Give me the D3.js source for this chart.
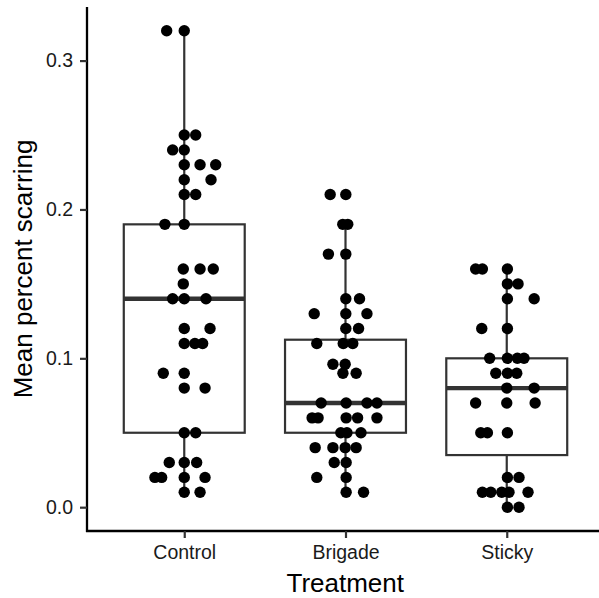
<!DOCTYPE html>
<html>
<head>
<meta charset="utf-8">
<script src="https://cdn.jsdelivr.net/npm/d3@7"></script>
<style>
  html, body { margin: 0; padding: 0; background: #fff; }
  svg { display: block; }
</style>
</head>
<body>
<svg id="chart" width="599" height="598"></svg>
<script>
// ---------- data ----------
const categories = ["Control", "Brigade", "Sticky"];

const controlValues = [0.32,0.32, 0.25,0.25, 0.24,0.24, 0.23,0.23,0.23, 0.22,0.22, 0.21,0.21, 0.19,0.19,
  0.16,0.16,0.16, 0.15, 0.14,0.14,0.14, 0.12,0.12, 0.11,0.11,0.11, 0.09,0.09, 0.08,0.08, 0.05,0.05,
  0.03,0.03,0.03, 0.02,0.02,0.02,0.02, 0.01,0.01];
const controlJitter = [-0.109,0, 0,0.071, -0.072,0, 0,0.098,0.195, 0,0.166, 0,0.071, -0.12,0,
  -0.006,0.098,0.18, -0.006, -0.072,0,0.135, 0,0.16, 0,0.066,0.114, -0.13,0, 0,0.129, 0,0.071,
  -0.093,0,0.077, -0.182,-0.14,0,0.129, 0,0.098];

const brigadeValues = [0.21,0.21, 0.19,0.19, 0.17,0.17, 0.14,0.14, 0.13,0.13,0.13, 0.12,0.12,
  0.11,0.11,0.11, 0.096,0.096, 0.09,0.09, 0.07,0.07,0.07,0.07, 0.06,0.06,0.06,0.06,0.06,
  0.05,0.05,0.05, 0.04,0.04,0.04,0.04, 0.03,0.03, 0.02,0.02, 0.01,0.01];
const brigadeJitter = [-0.095,0.002, -0.017,0.014, -0.106,0.002, 0.002,0.087, -0.194,0.002,0.133, 0.002,0.081,
  -0.178,-0.014,0.045, -0.078,-0.002, -0.016,0.066, -0.151,0.004,0.133,0.195, -0.207,-0.17,0.004,0.075,0.195,
  -0.029,0.009,0.096, -0.188,-0.078,-0.002,0.066, -0.07,0.004, -0.178,0.004, 0.004,0.112];

const stickyValues = [0.16,0.16,0.16, 0.15,0.15, 0.14,0.14, 0.12,0.12, 0.10,0.10,0.10,0.10,
  0.09,0.09,0.09, 0.08,0.08, 0.07,0.07,0.07, 0.05,0.05,0.05, 0.02,0.02,
  0.01,0.01,0.01,0.01,0.01, 0.00,0.00];
const stickyJitter = [-0.193,-0.151,0.004, 0.004,0.07, 0.004,0.17, -0.155,0.004, -0.106,0.004,0.066,0.107,
  -0.068,0.004,0.062, 0,0.17, -0.193,0,0.176, -0.161,-0.12,0.004, 0.004,0.076,
  -0.151,-0.099,-0.031,0.014,0.132, 0.004,0.076];

// box statistics
const whiskerLow  = [0.01, 0.01, 0.00];
const boxLower    = [0.05, 0.05, 0.035];
const boxMedian   = [0.14, 0.07, 0.08];
const boxUpper    = [0.19, 0.1125, 0.10];
const whiskerHigh = [0.32, 0.19, 0.16];

const yTicks = [0.0, 0.1, 0.2, 0.3];
const xTitle = "Treatment";
const yTitle = "Mean percent scarring";

// ---------- layout ----------
const svg = d3.select("#chart");
const mLeft = 87, mRight = 603.5, mTop = 7, mBottom = 531;

const x = d3.scalePoint().domain(categories).range([mLeft + 0.5, mRight]).padding(0.6);
const step = x.step();
const y = d3.scaleLinear().domain([-0.016, 0.336]).range([mBottom, mTop]);

const seriesValues = [controlValues, brigadeValues, stickyValues];
const seriesJitter = [controlJitter, brigadeJitter, stickyJitter];

// ---------- boxes ----------
const boxW = 0.75 * step;
const boxColor = "#333333";
const g = svg.append("g");
categories.forEach((c, i) => {
  const cx = x(c);
  g.append("line").attr("x1", cx).attr("x2", cx)
    .attr("y1", y(boxUpper[i])).attr("y2", y(whiskerHigh[i]))
    .attr("stroke", boxColor).attr("stroke-width", 2.2);
  g.append("line").attr("x1", cx).attr("x2", cx)
    .attr("y1", y(boxLower[i])).attr("y2", y(whiskerLow[i]))
    .attr("stroke", boxColor).attr("stroke-width", 2.2);
  g.append("rect").attr("x", cx - boxW / 2).attr("width", boxW)
    .attr("y", y(boxUpper[i])).attr("height", y(boxLower[i]) - y(boxUpper[i]))
    .attr("fill", "#fff").attr("stroke", boxColor).attr("stroke-width", 2.2);
  g.append("line").attr("x1", cx - boxW / 2).attr("x2", cx + boxW / 2)
    .attr("y1", y(boxMedian[i])).attr("y2", y(boxMedian[i]))
    .attr("stroke", boxColor).attr("stroke-width", 4.4);
});

// ---------- points ----------
categories.forEach((c, i) => {
  const pts = seriesValues[i].map((v, k) => ({ v, j: seriesJitter[i][k] }));
  svg.append("g").selectAll("circle").data(pts).join("circle")
    .attr("cx", d => x(c) + d.j * step)
    .attr("cy", d => y(d.v))
    .attr("r", 5.7)
    .attr("fill", "#000");
});

// ---------- axes ----------
const font = "'Liberation Sans', Arial, sans-serif";
const yAxis = svg.append("g").attr("transform", `translate(${mLeft},0)`)
  .call(d3.axisLeft(y).tickValues(yTicks).tickFormat(d3.format(".1f")).tickSizeOuter(0).tickSize(7).tickPadding(7));
yAxis.select(".domain").attr("d", `M0,${mTop}V${mBottom + 1}`).attr("stroke", "#000").attr("stroke-width", 2.3);
yAxis.selectAll(".tick line").attr("stroke", "#333").attr("stroke-width", 2.2);
yAxis.selectAll(".tick text").attr("font-family", font).attr("font-size", 19.5).attr("fill", "#1a1a1a");

const xAxis = svg.append("g").attr("transform", `translate(0,${mBottom})`)
  .call(d3.axisBottom(x).tickSizeOuter(0).tickSize(7).tickPadding(7));
xAxis.select(".domain").attr("d", `M${mLeft - 1},0H${mRight}`).attr("stroke", "#000").attr("stroke-width", 2.3);
xAxis.selectAll(".tick line").attr("stroke", "#333").attr("stroke-width", 2.2);
xAxis.selectAll(".tick text").attr("font-family", font).attr("font-size", 19.5).attr("fill", "#1a1a1a");

svg.append("text").attr("x", (mLeft + mRight) / 2).attr("y", 592)
  .attr("text-anchor", "middle").attr("font-family", font).attr("font-size", 26).attr("fill", "#000")
  .text(xTitle);
svg.append("text").attr("transform", `translate(32,${(mTop + mBottom) / 2}) rotate(-90)`)
  .attr("text-anchor", "middle").attr("font-family", font).attr("font-size", 26).attr("fill", "#000")
  .text(yTitle);
</script>
</body>
</html>
